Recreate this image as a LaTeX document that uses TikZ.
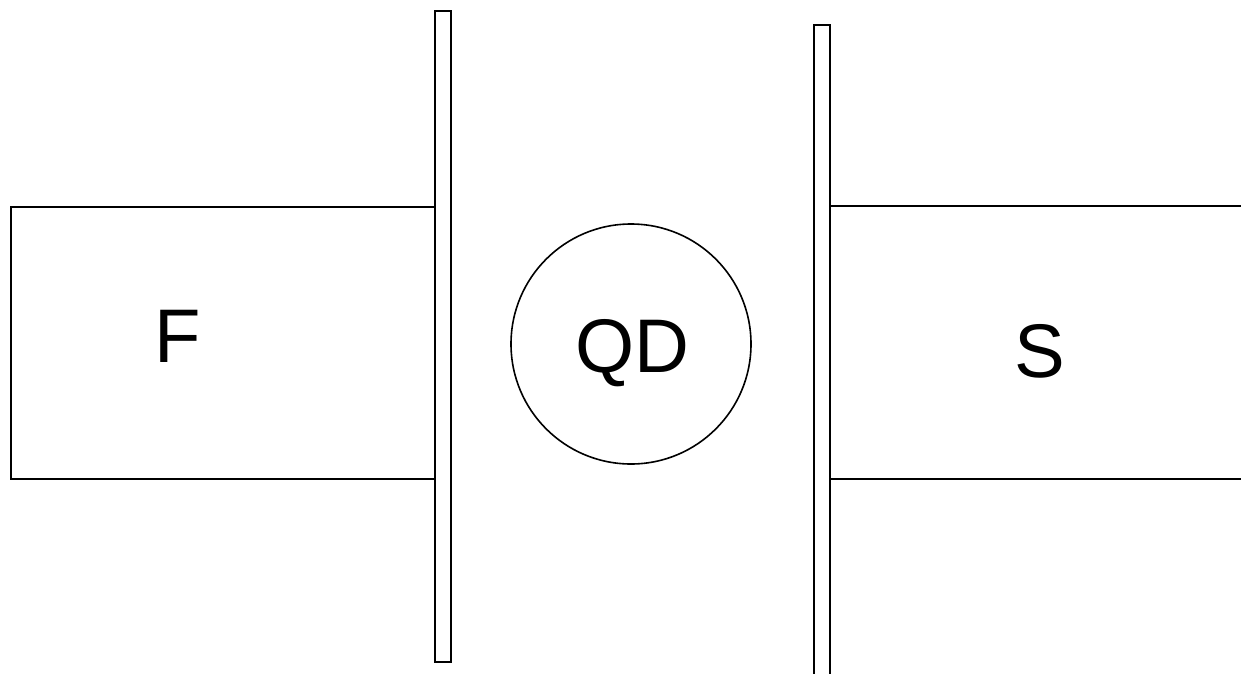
\documentclass[tikz,border=0pt]{standalone}
\usepackage{fontspec}
\setmainfont{Liberation Sans}
\begin{document}
\begin{tikzpicture}[x=1pt,y=-1pt,
  edge/.style={line width=2pt,draw=black},
  barrier/.style={edge,fill=white},
  lbl/.style={font=\fontsize{76}{76}\selectfont,inner sep=0pt,anchor=base}]
\useasboundingbox (0,0) rectangle (1241,673);
% left lead F
\draw[edge] (435,207) -- (11,207) -- (11,479) -- (435,479);
% right lead S
\draw[edge] (830,206) -- (1245,206);
\draw[edge] (830,479) -- (1245,479);
% barriers
\draw[barrier] (435,11) rectangle (451,662);
\draw[barrier] (814,25) rectangle (830,680);
% quantum dot
\node[draw,line width=1.6pt,circle,minimum size=240pt,inner sep=0pt] (qd) at (631,344) {};
\node[lbl] (F) at (178,362) {F};
\node[lbl] (QDt) at (632,372) {QD};
\node[lbl] (S) at (1040,377) {S};
\end{tikzpicture}
\end{document}
